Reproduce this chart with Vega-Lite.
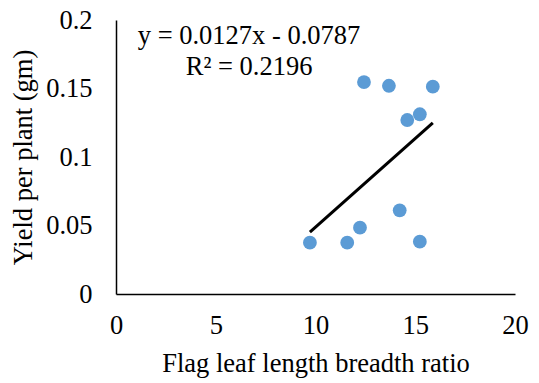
{
  "$schema": "https://vega.github.io/schema/vega-lite/v6.json",
  "width": 399,
  "height": 274,
  "autosize": {"type": "none"},
  "padding": {"left": 116, "top": 20, "right": 24, "bottom": 89},
  "background": "white",
  "config": {
    "view": {"stroke": null},
    "font": "Liberation Serif",
    "axis": {
      "domainColor": "black",
      "domainWidth": 1.5,
      "ticks": false,
      "grid": false,
      "labelFlush": false,
      "labelOverlap": false,
      "labelFont": "Liberation Serif",
      "titleFont": "Liberation Serif",
      "labelFontSize": 26.5,
      "titleFontSize": 26.5,
      "labelColor": "black",
      "titleColor": "black",
      "titleFontWeight": "normal"
    }
  },
  "data": {
    "values": [
      {"ratio": 9.72, "yield": 0.0375},
      {"ratio": 11.59, "yield": 0.0375},
      {"ratio": 12.23, "yield": 0.0484},
      {"ratio": 12.43, "yield": 0.1547},
      {"ratio": 13.68, "yield": 0.152},
      {"ratio": 14.22, "yield": 0.0611},
      {"ratio": 14.6, "yield": 0.127},
      {"ratio": 15.23, "yield": 0.1312},
      {"ratio": 15.23, "yield": 0.0382},
      {"ratio": 15.88, "yield": 0.1513}
    ]
  },
  "layer": [
    {
      "mark": {"type": "point", "filled": true, "size": 190, "color": "#5B9BD5", "opacity": 1},
      "encoding": {
        "x": {
          "field": "ratio", "type": "quantitative",
          "scale": {"domain": [0, 20], "nice": false},
          "axis": {"values": [0, 5, 10, 15, 20], "title": "Flag leaf length breadth ratio", "labelPadding": 18, "titlePadding": 12}
        },
        "y": {
          "field": "yield", "type": "quantitative",
          "scale": {"domain": [0, 0.2], "nice": false},
          "axis": {"values": [0, 0.05, 0.1, 0.15, 0.2], "format": ".2~f", "title": "Yield per plant (gm)", "labelPadding": 24, "titlePadding": 8}
        }
      }
    },
    {
      "transform": [{"regression": "yield", "on": "ratio"}],
      "mark": {"type": "line", "color": "black", "strokeWidth": 3},
      "encoding": {
        "x": {"field": "ratio", "type": "quantitative"},
        "y": {"field": "yield", "type": "quantitative"}
      }
    },
    {
      "data": {"values": [{"label": ["y = 0.0127x - 0.0787", "R² = 0.2196"]}]},
      "mark": {"type": "text", "fontSize": 26.5, "font": "Liberation Serif", "color": "black", "align": "center", "baseline": "middle", "lineHeight": 30.5},
      "encoding": {
        "x": {"datum": 6.67},
        "y": {"datum": 0.1883},
        "text": {"field": "label"}
      }
    }
  ]
}
